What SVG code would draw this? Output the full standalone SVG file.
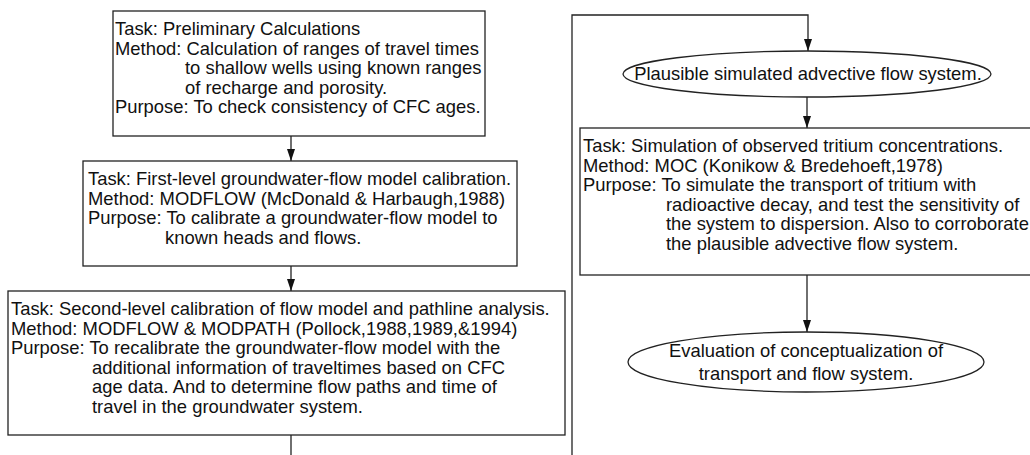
<svg xmlns="http://www.w3.org/2000/svg" width="1030" height="455" viewBox="0 0 1030 455">
<style>
  .box { fill: #fff; stroke: #222; stroke-width: 1.3; }
  .ell { fill: #fff; stroke: #222; stroke-width: 1.3; }
  .t { font-family: "Liberation Sans", Arial, sans-serif; font-size: 18.4px; fill: #111; }
  .c { text-anchor: middle; }
  .ln { fill: none; stroke: #222; stroke-width: 1.3; }
</style>
<defs>
  <marker id="ah" viewBox="0 0 12 10" refX="12" refY="5" markerWidth="12" markerHeight="10" markerUnits="userSpaceOnUse" orient="auto">
    <path d="M0,1 L12,5 L0,9 Z" fill="#111"/>
  </marker>
</defs>
<g id="connectors">
  <path class="ln" d="M291,136 V161" marker-end="url(#ah)"/>
  <path class="ln" d="M291,266 V291" marker-end="url(#ah)"/>
  <path class="ln" d="M291,435 V455"/>
  <path class="ln" d="M572,455 V15 H808 V51" marker-end="url(#ah)"/>
  <path class="ln" d="M807,97 V128" marker-end="url(#ah)"/>
  <path class="ln" d="M807,275 V332" marker-end="url(#ah)"/>
</g>
<g id="n1">
  <rect class="box" x="113" y="11" width="372" height="125"/>
  <text class="t"><tspan x="115" y="35">Task: Preliminary Calculations</tspan><tspan x="115" y="55">Method: Calculation of ranges of travel times</tspan><tspan x="185" y="74">to shallow wells using known ranges</tspan><tspan x="185" y="94">of recharge and porosity.</tspan><tspan x="115" y="113">Purpose: To check consistency of CFC ages.</tspan></text>
</g>
<g id="n2">
  <rect class="box" x="83" y="161" width="434" height="105"/>
  <text class="t"><tspan x="88" y="185">Task: First-level groundwater-flow model calibration.</tspan><tspan x="88" y="205">Method: MODFLOW (McDonald &amp; Harbaugh,1988)</tspan><tspan x="88" y="224">Purpose: To calibrate a groundwater-flow model to</tspan><tspan x="165" y="244">known heads and flows.</tspan></text>
</g>
<g id="n3">
  <rect class="box" x="8" y="291" width="557" height="144"/>
  <text class="t"><tspan x="11" y="315">Task: Second-level calibration of flow model and pathline analysis.</tspan><tspan x="11" y="335">Method: MODFLOW &amp; MODPATH (Pollock,1988,1989,&amp;1994)</tspan><tspan x="11" y="354">Purpose: To recalibrate the groundwater-flow model with the</tspan><tspan x="92" y="374">additional information of traveltimes based on CFC</tspan><tspan x="92" y="393">age data. And to determine flow paths and time of</tspan><tspan x="92" y="413">travel in the groundwater system.</tspan></text>
</g>
<g id="n4">
  <ellipse class="ell" cx="807" cy="74" rx="184" ry="23"/>
  <text class="t c" x="808" y="80">Plausible simulated advective flow system.</text>
</g>
<g id="n5">
  <rect class="box" x="580" y="128" width="452" height="147"/>
  <text class="t"><tspan x="583" y="152">Task: Simulation of observed tritium concentrations.</tspan><tspan x="583" y="172">Method: MOC (Konikow &amp; Bredehoeft,1978)</tspan><tspan x="583" y="191">Purpose: To simulate the transport of tritium with</tspan><tspan x="666" y="211">radioactive decay, and test the sensitivity of</tspan><tspan x="666" y="230">the system to dispersion. Also to corroborate</tspan><tspan x="666" y="250">the plausible advective flow system.</tspan></text>
</g>
<g id="n6">
  <ellipse class="ell" cx="806" cy="362" rx="178" ry="30"/>
  <text class="t c"><tspan x="806" y="357">Evaluation of conceptualization of</tspan><tspan x="806" y="380">transport and flow system.</tspan></text>
</g>
</svg>
